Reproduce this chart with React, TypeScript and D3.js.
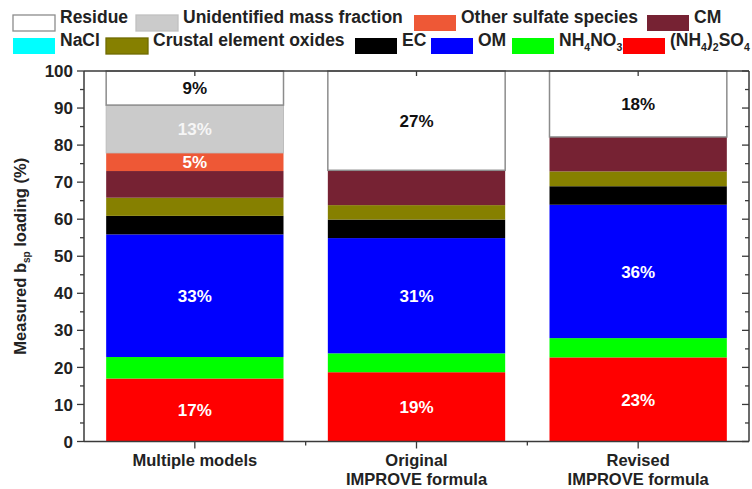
import * as d3 from "d3";

// bar categories (x axis), each split into lines for the tick label
const categories = ["Multiple models", "Original IMPROVE formula", "Revised IMPROVE formula"];
const categoryLines = [["Multiple models"], ["Original", "IMPROVE formula"], ["Revised", "IMPROVE formula"]];

// measured bsp loading (%) per species, one value per bar, bottom -> top
const sulfate = [17.0, 18.7, 22.7];
const nitrate = [5.8, 5.1, 5.2];
const om = [33.1, 31.1, 36.0];
const ec = [5.0, 5.0, 5.0];
const crustal = [4.9, 3.9, 4.0];
const nacl = [0, 0, 0];
const cm = [7.2, 9.4, 9.3];
const otherSulfate = [4.9, 0, 0];
const unidentified = [12.9, 0, 0];
const residue = [9.2, 26.8, 17.8];

const keys = ["sulfate", "nitrate", "om", "ec", "crustal", "nacl", "cm", "otherSulfate", "unidentified", "residue"];
const series = [sulfate, nitrate, om, ec, crustal, nacl, cm, otherSulfate, unidentified, residue];
const colors = ["#ff0000", "#00ff00", "#0000ff", "#000000", "#868000", "#00ffff", "#762233", "#ee5836", "#cbcbcb", "#ffffff"];

// legend text, [text, subscript?] pieces
const legendText: Record<string, [string, boolean][]> = {
  residue: [["Residue", false]],
  unidentified: [["Unidentified mass fraction", false]],
  otherSulfate: [["Other sulfate species", false]],
  cm: [["CM", false]],
  nacl: [["NaCl", false]],
  crustal: [["Crustal element oxides", false]],
  ec: [["EC", false]],
  om: [["OM", false]],
  nitrate: [["NH", false], ["4", true], ["NO", false], ["3", true]],
  sulfate: [["(NH", false], ["4", true], [")", false], ["2", true], ["SO", false], ["4", true]],
};
const legendRows = [
  ["residue", "unidentified", "otherSulfate", "cm"],
  ["nacl", "crustal", "ec", "om", "nitrate", "sulfate"],
];
const legendX = [
  [13, 136, 414, 647],
  [13, 106, 355, 431, 512, 623],
];

// percentage labels written inside the bars
const segLabels = [
  { bar: 0, key: "residue", text: "9%", fill: "#111" },
  { bar: 0, key: "unidentified", text: "13%", fill: "#f6f6f6" },
  { bar: 0, key: "otherSulfate", text: "5%", fill: "#fff" },
  { bar: 0, key: "om", text: "33%", fill: "#fff" },
  { bar: 0, key: "sulfate", text: "17%", fill: "#fff" },
  { bar: 1, key: "residue", text: "27%", fill: "#111" },
  { bar: 1, key: "om", text: "31%", fill: "#fff" },
  { bar: 1, key: "sulfate", text: "19%", fill: "#fff" },
  { bar: 2, key: "residue", text: "18%", fill: "#111" },
  { bar: 2, key: "om", text: "36%", fill: "#fff" },
  { bar: 2, key: "sulfate", text: "23%", fill: "#fff" },
];

const W = 752, H = 489;
const left = 84, right = 749, top = 71, bottom = 441.5;
const font = "'Liberation Sans', Arial, sans-serif";
const axisColor = "#3a3a3a";
const legendSize = 17.5;

function Parts({ parts, size }: { parts: [string, boolean][]; size: number }) {
  let shifted = false;
  return (
    <>
      {parts.map(([t, sub], i) => {
        let dy = 0;
        if (sub && !shifted) { dy = 5; shifted = true; }
        else if (!sub && shifted) { dy = -5; shifted = false; }
        return (
          <tspan key={i} dy={dy} fontSize={sub ? size * 0.6 : size}>{t}</tspan>
        );
      })}
    </>
  );
}

export default function App() {
  const table = categories.map((c, i) => {
    const row: Record<string, any> = { category: c };
    keys.forEach((k, j) => (row[k] = series[j][i]));
    return row;
  });
  const stacked = d3.stack<any>().keys(keys)(table);

  const x = d3.scaleBand<string>().domain(categories).range([left, right]).padding(0);
  const barW = x.bandwidth() * 0.8;
  const y = d3.scaleLinear().domain([0, 100]).range([bottom, top]);
  const color = d3.scaleOrdinal<string, string>().domain(keys).range(colors);

  const major = y.ticks(10);
  const minor = y.ticks(20).filter((t) => !major.includes(t));
  const bands = d3.range(categories.length + 1).map((i) => left + i * x.step());

  return (
    <svg width={W} height={H} style={{ position: "absolute", left: 0, top: 0, background: "#fff" }} fontFamily={font}>
      {/* bars */}
      {stacked.map((s) => (
        <g key={s.key}>
          {s.map((d, i) => {
            const h = y(d[0]) - y(d[1]);
            if (h <= 0) return null;
            const isRes = s.key === "residue";
            const isGray = s.key === "unidentified";
            return (
              <rect
                key={i}
                x={x(categories[i])! + (x.bandwidth() - barW) / 2}
                y={y(d[1])}
                width={barW}
                height={h}
                fill={color(s.key)}
                stroke={isRes ? "#8c8c8c" : isGray ? "#bdbdbd" : "none"}
                strokeWidth={isRes ? 1.5 : 1}
              />
            );
          })}
        </g>
      ))}
      {/* segment labels */}
      {segLabels.map((l, i) => {
        const s = stacked[keys.indexOf(l.key)][l.bar];
        const cy = (y(s[0]) + y(s[1])) / 2;
        return (
          <text key={i} x={x(categories[l.bar])! + x.bandwidth() / 2} y={cy} dy="0.36em"
            textAnchor="middle" fontSize={17} fontWeight="bold" fill={l.fill}>{l.text}</text>
        );
      })}

      {/* frame */}
      <g stroke={axisColor} strokeWidth={1.5} fill="none">
        <line x1={left} x2={right} y1={top} y2={top} />
        <line x1={left} x2={right} y1={bottom} y2={bottom} />
        <line x1={left} x2={left} y1={top} y2={bottom} />
        <line x1={right} x2={right} y1={top} y2={bottom} />
      </g>
      {/* ticks */}
      <g stroke={axisColor} strokeWidth={1.3}>
        {major.map((t) => (
          <g key={"M" + t}>
            <line x1={left - 7} x2={left} y1={y(t)} y2={y(t)} />
            <line x1={right - 7} x2={right} y1={y(t)} y2={y(t)} />
          </g>
        ))}
        {minor.map((t) => (
          <g key={"m" + t}>
            <line x1={left - 4} x2={left} y1={y(t)} y2={y(t)} />
            <line x1={right - 4} x2={right} y1={y(t)} y2={y(t)} />
          </g>
        ))}
        {categories.map((c) => {
          const cx = x(c)! + x.bandwidth() / 2;
          return (
            <g key={c}>
              <line x1={cx} x2={cx} y1={bottom} y2={bottom + 7} />
              <line x1={cx} x2={cx} y1={top} y2={top + 5} />
            </g>
          );
        })}
        {bands.slice(1, -1).map((b) => (
          <line key={b} x1={b} x2={b} y1={bottom} y2={bottom + 4} />
        ))}
      </g>
      {major.map((t) => (
        <text key={t} x={left - 11} y={y(t)} dy="0.36em" textAnchor="end" fontSize={17} fontWeight="bold" fill="#222">{t}</text>
      ))}
      {/* category labels */}
      {categories.map((c, i) => (
        <text key={c} x={x(c)! + x.bandwidth() / 2} y={466} textAnchor="middle" fontSize={16.5} fontWeight="bold" fill="#222">
          {categoryLines[i].map((ln, j) => (
            <tspan key={j} x={x(c)! + x.bandwidth() / 2} dy={j === 0 ? 0 : 19}>{ln}</tspan>
          ))}
        </text>
      ))}
      {/* y title */}
      <text transform={`translate(26,${(top + bottom) / 2}) rotate(-90)`} textAnchor="middle" fontSize={16.5} fontWeight="bold" fill="#222">
        <tspan>Measured b</tspan>
        <tspan fontSize={10} dy={4}>sp</tspan>
        <tspan dy={-4}> loading (%)</tspan>
      </text>

      {/* legend */}
      {legendRows.map((row, r) =>
        row.map((k, j) => {
          const sx = legendX[r][j];
          const cy = r === 0 ? 23 : 46;
          return (
            <g key={k}>
              <rect x={sx} y={cy - 8} width={42} height={16} fill={color(k)}
                stroke={k === "residue" ? "#8c8c8c" : k === "unidentified" ? "#c0c0c0" : k === "crustal" ? "#6f6a00" : "none"}
                strokeWidth={1.3} />
              <text x={sx + 47} y={cy} dy="0.36em" fontSize={legendSize} fontWeight="bold" fill="#222">
                <Parts parts={legendText[k]} size={legendSize} />
              </text>
            </g>
          );
        })
      )}
    </svg>
  );
}
